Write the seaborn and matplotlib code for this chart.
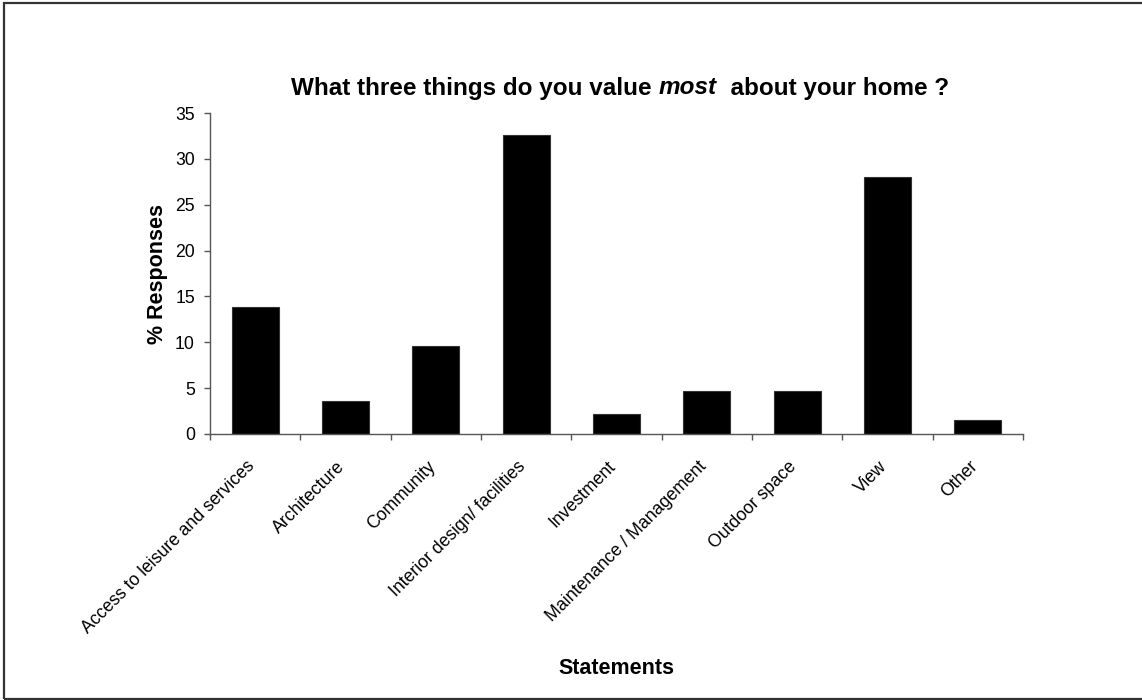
import matplotlib
matplotlib.use("Agg")
import matplotlib.pyplot as plt
from matplotlib.patches import Rectangle
import numpy as np
import pandas as pd
import seaborn as sns

# Survey results
categories = [
    "Access to leisure and services",
    "Architecture",
    "Community",
    "Interior design/ facilities",
    "Investment",
    "Maintenance / Management",
    "Outdoor space",
    "View",
    "Other",
]
responses = [13.8, 3.6, 9.6, 32.6, 2.2, 4.7, 4.7, 28.0, 1.5]
y_ticks = [0, 5, 10, 15, 20, 25, 30, 35]

title_parts = [("What three things do you value ", "normal"),
               ("most", "italic"),
               ("  about your home ?", "normal")]

sns.set_theme(style="white")
plt.rcParams["font.family"] = ["Liberation Sans", "DejaVu Sans"]
plt.rcParams["text.color"] = "black"
plt.rcParams["axes.labelcolor"] = "black"
plt.rcParams["xtick.color"] = "black"
plt.rcParams["ytick.color"] = "black"

W, H = 1142, 700
fig = plt.figure(figsize=(W / 100, H / 100), dpi=100)
fig.patch.set_facecolor("white")

# chart frame
fig.add_artist(Rectangle((4 / W, 1.5 / H), 1.2, 1 - 4.5 / H,
                         transform=fig.transFigure, fill=False,
                         edgecolor="#333333", linewidth=1.6))

ax = fig.add_axes([210 / W, 1 - 434 / H, (1023 - 210) / W, (434 - 113) / H])

df = pd.DataFrame({"Statement": categories, "Responses": responses})
sns.barplot(data=df, x="Statement", y="Responses", color="black",
            saturation=1, width=0.52, edgecolor="#333333", linewidth=0.8,
            ax=ax)

ax.set_xlim(-0.5, len(categories) - 0.5)
ax.set_ylim(0, 35)
ax.set_yticks(y_ticks)

for side in ("top", "right"):
    ax.spines[side].set_visible(False)
for side in ("left", "bottom"):
    ax.spines[side].set_color("#555555")
    ax.spines[side].set_linewidth(1.0)

ax.tick_params(axis="y", left=True, direction="out", length=4.3, width=1,
               color="#555555", labelsize=12.7, labelcolor="black", pad=6.5)
# category labels sit at bar centres, tick marks sit between categories
ax.set_xticks(np.arange(-0.5, len(categories), 1.0), minor=True)
ax.tick_params(axis="x", which="minor", bottom=True, direction="out",
               length=4.3, width=1, color="#555555")
ax.tick_params(axis="x", which="major", bottom=True, length=0,
               labelsize=12.7, labelcolor="black", pad=23.8)

ax.set_xlabel("Statements", fontsize=15.5, fontweight="bold")
ax.xaxis.set_label_coords(0.5, 1 - (669 - 113) / (434 - 113))
ax.xaxis.label.set_va("center")
ax.set_ylabel("% Responses", fontsize=15.5, fontweight="bold")
ax.yaxis.set_label_coords((157 - 210) / 813, 0.5)
ax.yaxis.label.set_va("center")

# title with an italic word, laid out piece by piece and centred
renderer = fig.canvas.get_renderer()
pieces = []
for txt, style in title_parts:
    t = fig.text(0, 1 - 88 / H, txt, fontsize=17.5, fontweight="bold",
                 fontstyle=style, va="center", ha="left")
    pieces.append(t)
widths = [p.get_window_extent(renderer).width for p in pieces]
x0 = 620 - sum(widths) / 2
for p, w in zip(pieces, widths):
    p.set_x(x0 / W)
    x0 += w

# slanted category labels ending at the bar centres
fig.canvas.draw()
for tick in ax.xaxis.get_major_ticks():
    lbl = tick.label1
    lbl.set_rotation(45)
    lbl.set_ha("right")
    lbl.set_va("baseline")
    lbl.set_rotation_mode("anchor")

fig.savefig("out.png", dpi=100, facecolor="white")
